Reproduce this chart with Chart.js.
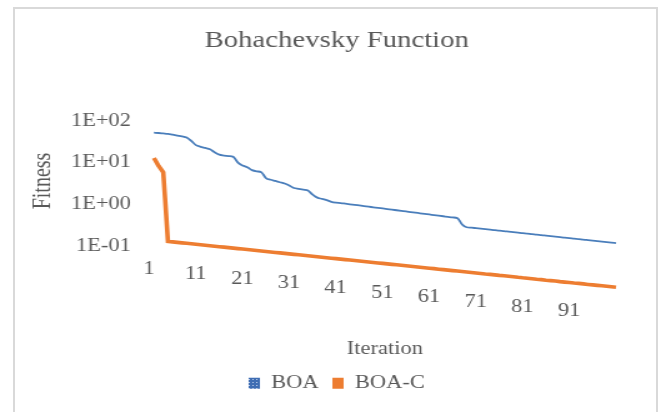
<!DOCTYPE html>
<html>
<head>
<meta charset="utf-8">
<script src="https://cdn.jsdelivr.net/npm/chart.js@4.4.1/dist/chart.umd.min.js"></script>
<style>
  html, body { margin: 0; padding: 0; background: #ffffff; overflow: hidden; }
  #frame { position: absolute; left: 13px; top: 7px; width: 641px; height: 430px; border: 2px solid #d9d9d9; }
  #wrap { position: absolute; left: 0; top: 0; width: 529px; height: 412px; transform: scaleX(1.2495); transform-origin: 0 0; }
</style>
</head>
<body>
<div id="frame"></div>
<div id="wrap"><canvas id="c" width="529" height="412"></canvas></div>
<script>
// ---- data ----
const iterations = Array.from({ length: 100 }, (_, i) => i + 1);

const boa = [
  44.4, 43.7, 42.7, 41.7, 39.8, 38.0, 36.3, 33.9, 28.2, 22.4,
  20.4, 19.1, 17.8, 15.1, 13.2, 12.6, 12.2, 11.7, 8.51, 7.24,
  6.61, 5.62, 5.25, 5.01, 3.63, 3.31, 3.09, 2.88, 2.69, 2.40,
  2.09, 2.00, 1.91, 1.82, 1.45, 1.23, 1.15, 1.07, 0.977, 0.933,
  0.912, 0.882, 0.853, 0.826, 0.799, 0.773, 0.747, 0.723, 0.699, 0.677,
  0.655, 0.633, 0.613, 0.593, 0.573, 0.555, 0.537, 0.519, 0.502, 0.486,
  0.470, 0.455, 0.440, 0.425, 0.412, 0.398, 0.282, 0.240, 0.234, 0.228,
  0.222, 0.216, 0.210, 0.204, 0.199, 0.193, 0.188, 0.183, 0.178, 0.173,
  0.169, 0.164, 0.160, 0.155, 0.151, 0.147, 0.143, 0.139, 0.135, 0.132,
  0.128, 0.125, 0.121, 0.118, 0.115, 0.112, 0.109, 0.106, 0.103, 0.100
];

const boaC = [
  11.0, 7.08, 5.01, 0.1096, 0.1068, 0.1040, 0.1013, 0.0987, 0.0961, 0.0936,
  0.0911, 0.0888, 0.0865, 0.0842, 0.0820, 0.0799, 0.0778, 0.0758, 0.0738, 0.0719,
  0.0700, 0.0682, 0.0664, 0.0647, 0.0630, 0.0613, 0.0597, 0.0582, 0.0567, 0.0552,
  0.0537, 0.0523, 0.0510, 0.0497, 0.0484, 0.0471, 0.0459, 0.0447, 0.0435, 0.0424,
  0.0413, 0.0402, 0.0392, 0.0381, 0.0371, 0.0362, 0.0352, 0.0343, 0.0334, 0.0326,
  0.0317, 0.0309, 0.0301, 0.0293, 0.0285, 0.0278, 0.0271, 0.0264, 0.0257, 0.0250,
  0.0244, 0.0237, 0.0231, 0.0225, 0.0219, 0.0214, 0.0208, 0.0203, 0.0197, 0.0192,
  0.0187, 0.0182, 0.0178, 0.0173, 0.0168, 0.0164, 0.0160, 0.0156, 0.0151, 0.0147,
  0.0144, 0.0140, 0.0136, 0.0133, 0.0129, 0.0126, 0.0123, 0.0119, 0.0116, 0.0113,
  0.0110, 0.0108, 0.0105, 0.0102, 0.00995, 0.00969, 0.00944, 0.00919, 0.00895, 0.00872
];

const xTickLabels = ['1', '11', '21', '31', '41', '51', '61', '71', '81', '91'];
const yTickValues = [0.1, 1, 10, 100];
const yTickLabels = ['1E-01', '1E+00', '1E+01', '1E+02'];
const seriesNames = ['BOA', 'BOA-C'];
const chartTitle = 'Bohachevsky Function';
const xTitle = 'Iteration';
const yTitle = 'Fitness';

// ---- styling ----
const TEXT = '#595959';
const SERIF = 'Liberation Serif';
const BLUE = '#4A7EBB';
const ORANGE = '#ED7D31';

Chart.defaults.font.family = SERIF;
Chart.defaults.color = TEXT;

// patterned legend swatch for BOA
const pc = document.createElement('canvas');
pc.width = 3; pc.height = 3;
const pg = pc.getContext('2d');
pg.fillStyle = '#3E6DB3'; pg.fillRect(0, 0, 3, 3);
pg.fillStyle = '#BFD0EC'; pg.fillRect(1, 1, 1, 1);
const boaPattern = pg.createPattern(pc, 'repeat');

const ctx = document.getElementById('c').getContext('2d');

new Chart(ctx, {
  type: 'line',
  data: {
    labels: iterations,
    datasets: [
      {
        label: seriesNames[0],
        data: boa,
        borderColor: BLUE,
        backgroundColor: boaPattern,
        borderWidth: 1.8,
        pointRadius: 0,
        cubicInterpolationMode: 'monotone',
        fill: false,
        clip: false
      },
      {
        label: seriesNames[1],
        data: boaC,
        borderColor: ORANGE,
        backgroundColor: ORANGE,
        borderWidth: 3.6,
        pointRadius: 0,
        tension: 0,
        fill: false,
        clip: false
      }
    ]
  },
  options: {
    responsive: false,
    animation: false,
    devicePixelRatio: 1,
    layout: { padding: { left: 10, right: 0, top: 0, bottom: 9.8 } },
    plugins: {
      tooltip: { enabled: false },
      title: {
        display: true,
        text: chartTitle,
        color: TEXT,
        font: { family: SERIF, size: 23, weight: 'normal', lineHeight: 1.2 },
        padding: { top: 27.4, bottom: 63 }
      },
      legend: {
        position: 'bottom',
        labels: {
          color: TEXT,
          font: { family: SERIF, size: 18, weight: 'normal' },
          boxWidth: 9,
          boxHeight: 11,
          padding: 11,
          generateLabels(chart) {
            const items = Chart.defaults.plugins.legend.labels.generateLabels(chart);
            items.forEach(it => { it.lineWidth = 0; it.strokeStyle = 'rgba(0,0,0,0)'; });
            return items;
          }
        }
      }
    },
    scales: {
      x: {
        type: 'category',
        grid: { display: false, drawTicks: false },
        border: { display: false },
        ticks: {
          autoSkip: false,
          maxRotation: 0,
          minRotation: 0,
          padding: 14.7,
          labelOffset: -4,
          color: TEXT,
          font: (c) => ({ family: SERIF, size: 18, lineHeight: (21.6 + 0.938 * c.index) + 'px' }),
          callback: (v, i) => (xTickLabels.includes(String(iterations[i])) ? String(iterations[i]) : '')
        },
        title: {
          display: true,
          text: xTitle,
          color: TEXT,
          font: { family: SERIF, size: 18, lineHeight: 1.2 },
          padding: { top: 0, bottom: 3.4 }
        },
        afterFit(scale) { scale.height = 119.2; }
      },
      y: {
        type: 'logarithmic',
        position: 'left',
        min: 0.0951,
        max: 100,
        grid: { display: false, drawTicks: false },
        border: { display: false },
        afterBuildTicks(scale) { scale.ticks = yTickValues.map(v => ({ value: v })); },
        ticks: {
          padding: 18.4,
          labelOffset: 3,
          color: TEXT,
          font: { family: SERIF, size: 18 },
          callback: (v) => {
            const k = yTickValues.indexOf(v);
            return k >= 0 ? yTickLabels[k] : '';
          }
        },
        title: {
          display: true,
          text: yTitle,
          color: TEXT,
          font: { family: SERIF, size: 20, lineHeight: 1.2 },
          padding: { top: 13.2, bottom: 0 }
        },
        afterFit(scale) { scale.width = 113.2; }
      },
      y2: {
        type: 'linear',
        position: 'right',
        display: true,
        grid: { display: false, drawTicks: false },
        border: { display: false },
        ticks: { display: false },
        afterFit(scale) { scale.width = 36; }
      }
    }
  }
});
</script>
</body>
</html>
